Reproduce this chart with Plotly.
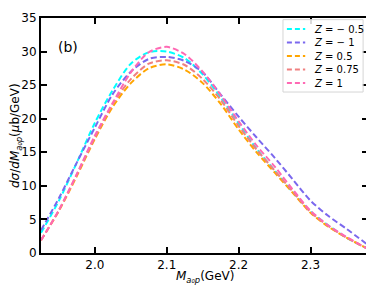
import plotly.graph_objects as go

x_vals = [1.925, 1.95, 1.975, 2.0, 2.025, 2.05, 2.075, 2.1, 2.125, 2.15,
          2.175, 2.2, 2.225, 2.25, 2.275, 2.3, 2.325, 2.35, 2.38]

z_m05 = [3.0, 7.8, 13.5, 19.4, 24.3, 28.2, 29.9, 30.0, 29.0, 26.6,
         23.2, 19.3, 15.5, 12.3, 9.1, 6.2, 4.1, 2.3, 0.6]
z_m1 = [3.4, 8.2, 13.5, 18.7, 23.7, 27.0, 28.9, 29.2, 28.6, 26.9,
        23.6, 20.3, 17.2, 14.2, 11.0, 7.8, 5.5, 3.6, 1.2]
z_05 = [1.9, 6.3, 11.5, 17.0, 21.8, 25.3, 27.5, 28.1, 27.3, 25.3,
        22.2, 18.4, 15.0, 12.0, 9.0, 6.0, 3.9, 2.3, 0.6]
z_075 = [1.9, 6.4, 11.7, 17.2, 22.2, 25.9, 28.2, 28.7, 28.0, 25.9,
         22.8, 18.9, 15.4, 12.3, 9.2, 6.1, 4.0, 2.3, 0.6]
z_1 = [1.9, 6.4, 11.8, 17.5, 22.4, 26.9, 29.9, 30.7, 29.6, 27.0,
       23.5, 19.6, 16.0, 12.9, 9.5, 6.3, 4.1, 2.4, 0.6]

labels = ["<i>Z</i> = − 0.5", "<i>Z</i> = − 1", "<i>Z</i> = 0.5",
          "<i>Z</i> = 0.75", "<i>Z</i> = 1"]
colors = ["#00FFFF", "#7B68EE", "#FFA500", "#F08080", "#FF69B4"]
values = [z_m05, z_m1, z_05, z_075, z_1]

DASH = "6px,3px"

fig = go.Figure()
for name, ys, col in zip(labels, values, colors):
    fig.add_trace(go.Scatter(
        x=x_vals, y=ys, mode="lines", name=name, showlegend=False,
        line=dict(color=col, width=2, dash=DASH, shape="spline", smoothing=0.8),
    ))

font = dict(family="DejaVu Sans", size=12, color="black")
axis_common = dict(
    showline=True, linecolor="black", linewidth=2, mirror="ticks",
    ticks="inside", ticklen=6, tickwidth=1.5, tickcolor="black",
    showgrid=False, zeroline=False, tickfont=font, ticklabeloverflow="allow",
)
fig.update_xaxes(range=[1.925, 2.38], tickvals=[2.0, 2.1, 2.2, 2.3],
                 ticktext=["2.0", "2.1", "2.2", "2.3"], **axis_common)
fig.update_yaxes(range=[0, 35], dtick=5, **axis_common)

# axis titles
fig.add_annotation(text="<i>M</i><sub><i>a₀p</i></sub>(GeV)", x=0.5, y=-0.1,
                   xref="paper", yref="paper", showarrow=False, font=font,
                   xanchor="center", yanchor="middle")
fig.add_annotation(text="<i>dσ</i>/<i>dM</i><sub><i>a₀p</i></sub>(<i>μ</i>b/GeV)",
                   x=-0.078, y=0.5, xref="paper", yref="paper", showarrow=False,
                   font=font, textangle=-90, xanchor="center", yanchor="middle")
fig.add_annotation(text="(b)", x=0.083, y=0.875, xref="paper", yref="paper",
                   showarrow=False, xanchor="center", yanchor="middle",
                   font=dict(family="DejaVu Sans", size=14, color="black"))

# legend (drawn manually to match the compact layout)
lx0, lx1, ly0, ly1 = 0.740, 0.985, 0.685, 0.993
fig.add_shape(type="rect", xref="paper", yref="paper", x0=lx0, x1=lx1, y0=ly0, y1=ly1,
              line=dict(color="#d5d5d5", width=1), fillcolor="rgba(255,255,255,0.85)",
              layer="above")
for i, (name, col) in enumerate(zip(labels, colors)):
    yy = 0.953 - i * 0.0575
    fig.add_shape(type="line", xref="paper", yref="paper", x0=0.752, x1=0.808,
                  y0=yy, y1=yy, line=dict(color=col, width=2, dash="5px,3px"), layer="above")
    fig.add_annotation(text=name, x=0.830, y=yy, xref="paper", yref="paper",
                       showarrow=False, xanchor="left", yanchor="middle",
                       font=dict(family="DejaVu Sans", size=10, color="black"))

fig.update_layout(
    width=366, height=283,
    margin=dict(l=33, r=6, t=3, b=38),
    paper_bgcolor="white", plot_bgcolor="white",
    font=font, showlegend=False,
)

fig.write_html("out.html")
